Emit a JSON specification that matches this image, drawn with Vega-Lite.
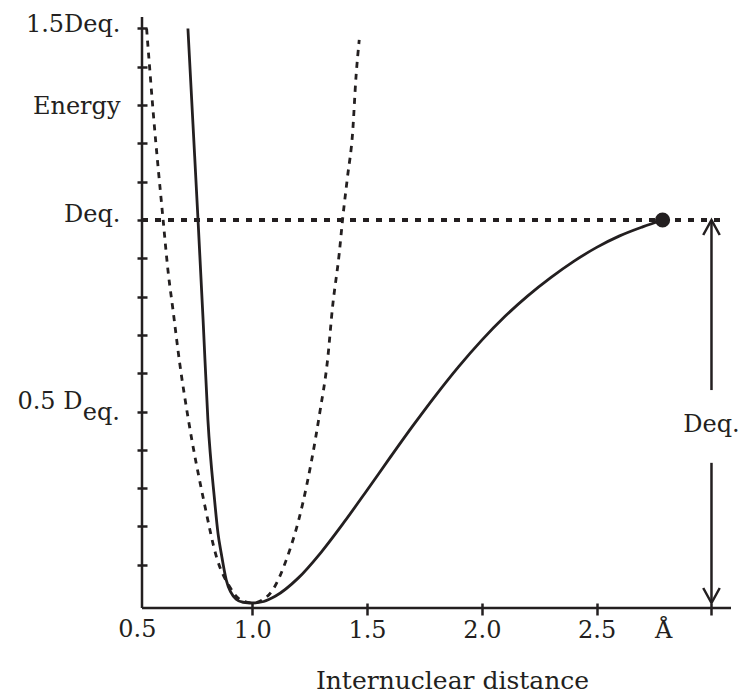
{
  "$schema": "https://vega.github.io/schema/vega-lite/v6.json",
  "width": 589,
  "height": 591,
  "autosize": {"type": "none"},
  "padding": {"left": 142, "top": 17, "right": 10, "bottom": 85},
  "background": "white",
  "config": {"view": {"stroke": null}, "font": "DejaVu Serif", "axis": {"grid": false}},
  "datasets": {
    "solid": [
      {"r": 0.720, "e": 1.50}, {"r": 0.742, "e": 1.25}, {"r": 0.764, "e": 1.0}, {"r": 0.786, "e": 0.74},
      {"r": 0.807, "e": 0.478}, {"r": 0.836, "e": 0.269}, {"r": 0.851, "e": 0.182}, {"r": 0.865, "e": 0.130},
      {"r": 0.887, "e": 0.060}, {"r": 0.93, "e": 0.010}, {"r": 0.96, "e": 0.002}, {"r": 1.0, "e": 0.0},
      {"r": 1.05, "e": 0.004}, {"r": 1.1, "e": 0.0175}, {"r": 1.2, "e": 0.065}, {"r": 1.3, "e": 0.1325},
      {"r": 1.4, "e": 0.211}, {"r": 1.5, "e": 0.2945}, {"r": 1.6, "e": 0.3795}, {"r": 1.7, "e": 0.463},
      {"r": 1.8, "e": 0.543}, {"r": 1.9, "e": 0.618}, {"r": 2.0, "e": 0.6865}, {"r": 2.1, "e": 0.748},
      {"r": 2.2, "e": 0.802}, {"r": 2.3, "e": 0.8495}, {"r": 2.4, "e": 0.892}, {"r": 2.5, "e": 0.9285},
      {"r": 2.6, "e": 0.9585}, {"r": 2.7, "e": 0.982}, {"r": 2.787, "e": 1.0}
    ],
    "dotted": [
      {"r": 0.540, "e": 1.50}, {"r": 0.554, "e": 1.392}, {"r": 0.568, "e": 1.287}, {"r": 0.612, "e": 1.0},
      {"r": 0.633, "e": 0.869}, {"r": 0.655, "e": 0.765}, {"r": 0.684, "e": 0.627}, {"r": 0.720, "e": 0.486},
      {"r": 0.793, "e": 0.256}, {"r": 0.844, "e": 0.121}, {"r": 0.901, "e": 0.043}, {"r": 0.95, "e": 0.008},
      {"r": 1.0, "e": 0.0}, {"r": 1.05, "e": 0.01}, {"r": 1.089, "e": 0.034}, {"r": 1.148, "e": 0.112},
      {"r": 1.22, "e": 0.26}, {"r": 1.295, "e": 0.50}, {"r": 1.328, "e": 0.634}, {"r": 1.350, "e": 0.774},
      {"r": 1.379, "e": 0.913}, {"r": 1.394, "e": 1.004}, {"r": 1.415, "e": 1.113}, {"r": 1.437, "e": 1.226},
      {"r": 1.452, "e": 1.374}, {"r": 1.466, "e": 1.47}
    ],
    "xaxisline": [{"r": 0.52, "r2": 3.085, "e": -0.013}],
    "yaxisline": [{"r": 0.52, "e": -0.013, "e2": 1.53}],
    "level": [{"r": 0.52, "r2": 3.04, "e": 1.0}],
    "dot": [{"r": 2.787, "e": 1.0}],
    "arrow": [{"r": 3.0, "e": 1.0, "e2": 0.556}, {"r": 3.0, "e": 0.366, "e2": 0.0}],
    "heads": [{"r": 3.0, "e": 1.0, "dir": "up"}, {"r": 3.0, "e": 0.0, "dir": "down"}],
    "notes": [
      {"r": 3.0, "e": 0.446, "t": "Deq.", "kind": "right"},
      {"r": 0.52, "e": 0.5, "t": "eq.", "kind": "sub"},
      {"r": 0.5, "e": -0.013, "t": "0.5", "kind": "xlab"}
    ]
  },
  "layer": [
    {
      "data": {"name": "solid"},
      "mark": {"type": "line", "strokeWidth": 2.8, "color": "#231f20", "interpolate": "monotone"},
      "encoding": {
        "x": {
          "field": "r", "type": "quantitative",
          "scale": {"domain": [0.52, 3.085], "nice": false, "zero": false},
          "axis": {
            "values": [1, 1.5, 2, 2.5, 2.79, 3],
            "labelExpr": "datum.value == 1 ? '1.0' : datum.value == 1.5 ? '1.5' : datum.value == 2 ? '2.0' : datum.value == 2.5 ? '2.5' : datum.value == 2.79 ? 'Å' : ''",
            "domain": false, "offset": -5, "tickSize": 12, "tickWidth": 2.5,
            "tickColor": {"condition": {"test": "datum.value == 2.79", "value": "transparent"}, "value": "#231f20"},
            "labelFont": "DejaVu Serif", "labelFontSize": 24, "labelColor": "#231f20",
            "labelBaseline": "alphabetic", "labelPadding": 22, "labelFlush": false, "labelOverlap": false, "labelBound": false,
            "title": "Internuclear distance", "titleFont": "DejaVu Serif", "titleFontSize": 25, "titleFontWeight": "normal",
            "titleColor": "#231f20", "titleX": 310, "titleY": 85, "titleBaseline": "alphabetic", "titleAlign": "center", "titleAnchor": "start"
          }
        },
        "y": {
          "field": "e", "type": "quantitative",
          "scale": {"domain": [-0.013, 1.53], "nice": false, "zero": false},
          "axis": {
            "values": [0.1, 0.2, 0.3, 0.4, 0.5, 0.6, 0.7, 0.8, 0.9, 1, 1.1, 1.2, 1.3, 1.4, 1.5],
            "labelExpr": "datum.value == 1.5 ? '1.5Deq.' : datum.value == 1.3 ? 'Energy' : datum.value == 1 ? 'Deq.' : datum.value == 0.5 ? '0.5 D' : ''",
            "domain": false, "offset": -5, "tickSize": 10, "tickWidth": 2.5, "tickColor": "#231f20",
            "labelFont": "DejaVu Serif", "labelFontSize": 24, "labelColor": "#231f20",
            "labelBaseline": "middle", "labelAlign": "right", "labelOverlap": false, "labelBound": false, "labelFlush": false,
            "labelPadding": {"condition": {"test": "datum.value == 0.5", "value": 55}, "value": 17},
            "labelOffset": {"condition": [
              {"test": "datum.value == 1.5", "value": -4},
              {"test": "datum.value == 1", "value": -6},
              {"test": "datum.value == 0.5", "value": -10}
            ], "value": 1},
            "title": null
          }
        },
        "order": {"field": "r"}
      }
    },
    {
      "data": {"name": "yaxisline"},
      "mark": {"type": "rule", "strokeWidth": 2.5, "color": "#231f20"},
      "encoding": {
        "x": {"field": "r", "type": "quantitative"},
        "y": {"field": "e", "type": "quantitative"},
        "y2": {"field": "e2"}
      }
    },
    {
      "data": {"name": "xaxisline"},
      "mark": {"type": "rule", "strokeWidth": 2.5, "color": "#231f20"},
      "encoding": {
        "x": {"field": "r", "type": "quantitative"},
        "x2": {"field": "r2"},
        "y": {"field": "e", "type": "quantitative"}
      }
    },
    {
      "data": {"name": "level"},
      "mark": {"type": "rule", "strokeWidth": 4, "strokeDash": [6, 7], "color": "#231f20"},
      "encoding": {
        "x": {"field": "r", "type": "quantitative"},
        "x2": {"field": "r2"},
        "y": {"field": "e", "type": "quantitative"}
      }
    },
    {
      "data": {"name": "dotted"},
      "mark": {"type": "line", "strokeWidth": 2.8, "strokeDash": [6, 6], "color": "#231f20", "interpolate": "monotone"},
      "encoding": {
        "x": {"field": "r", "type": "quantitative"},
        "y": {"field": "e", "type": "quantitative"},
        "order": {"field": "r"}
      }
    },
    {
      "data": {"name": "dot"},
      "mark": {"type": "point", "filled": true, "size": 230, "color": "#231f20", "opacity": 1},
      "encoding": {
        "x": {"field": "r", "type": "quantitative"},
        "y": {"field": "e", "type": "quantitative"}
      }
    },
    {
      "data": {"name": "arrow"},
      "mark": {"type": "rule", "strokeWidth": 2.5, "color": "#231f20"},
      "encoding": {
        "x": {"field": "r", "type": "quantitative"},
        "y": {"field": "e", "type": "quantitative"},
        "y2": {"field": "e2"}
      }
    },
    {
      "data": {"name": "heads"},
      "mark": {"type": "point", "filled": false, "size": 900, "strokeWidth": 2.5, "color": "#231f20", "opacity": 1},
      "encoding": {
        "x": {"field": "r", "type": "quantitative"},
        "y": {"field": "e", "type": "quantitative"},
        "shape": {"field": "dir", "type": "nominal", "legend": null,
          "scale": {"domain": ["up", "down"], "range": ["M -0.55 1 L 0 0 L 0.55 1", "M -0.55 -1 L 0 0 L 0.55 -1"]}}
      }
    },
    {
      "data": {"name": "notes"},
      "transform": [{"filter": "datum.kind == 'right'"}],
      "mark": {"type": "text", "align": "center", "baseline": "alphabetic", "fontSize": 24, "font": "DejaVu Serif", "color": "#231f20"},
      "encoding": {
        "x": {"field": "r", "type": "quantitative"},
        "y": {"field": "e", "type": "quantitative"},
        "text": {"field": "t"}
      }
    },
    {
      "data": {"name": "notes"},
      "transform": [{"filter": "datum.kind == 'sub'"}],
      "mark": {"type": "text", "align": "right", "baseline": "alphabetic", "dx": -22, "dy": 8.5, "fontSize": 24, "font": "DejaVu Serif", "color": "#231f20"},
      "encoding": {
        "x": {"field": "r", "type": "quantitative"},
        "y": {"field": "e", "type": "quantitative"},
        "text": {"field": "t"}
      }
    },
    {
      "data": {"name": "notes"},
      "transform": [{"filter": "datum.kind == 'xlab'"}],
      "mark": {"type": "text", "align": "center", "baseline": "alphabetic", "dy": 29, "fontSize": 24, "font": "DejaVu Serif", "color": "#231f20"},
      "encoding": {
        "x": {"field": "r", "type": "quantitative"},
        "y": {"field": "e", "type": "quantitative"},
        "text": {"field": "t"}
      }
    }
  ]
}
